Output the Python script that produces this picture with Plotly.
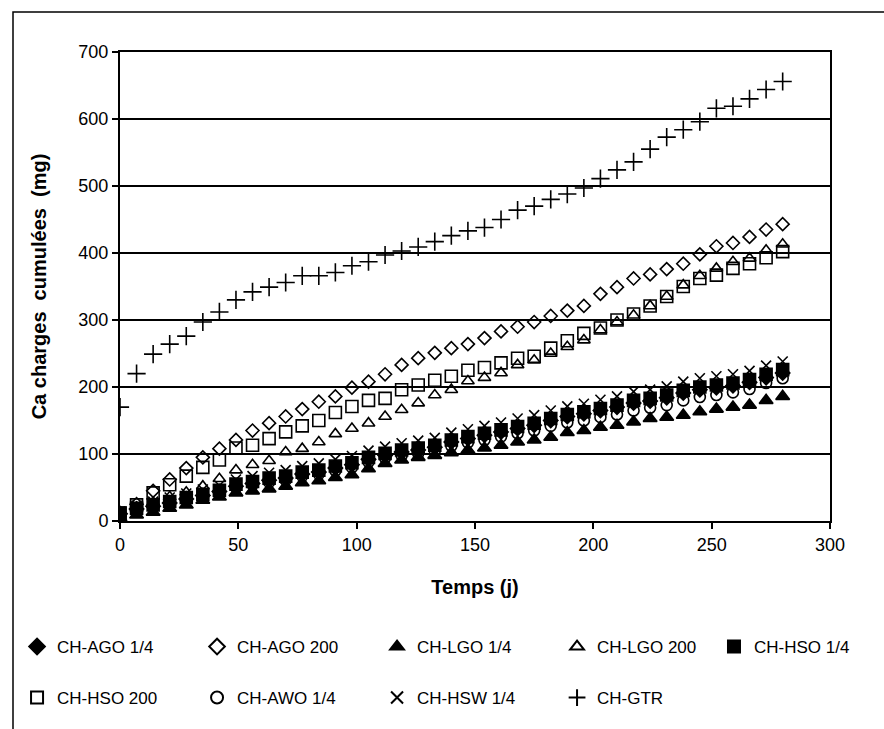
import plotly.graph_objects as go

days = [0, 7, 14, 21, 28, 35, 42, 49, 56, 63, 70, 77, 84, 91, 98, 105, 112, 119, 126, 133, 140,
        147, 154, 161, 168, 175, 182, 189, 196, 203, 210, 217, 224, 231, 238, 245, 252, 259, 266, 273, 280]

ago_14 = [11, 18, 22, 27, 33, 38, 44, 52, 56, 61, 64, 70, 73, 79, 84, 92, 98, 103, 106, 110, 118,
          123, 128, 133, 138, 143, 150, 156, 160, 165, 170, 176, 179, 184, 191, 196, 199, 202, 207, 214, 221]
ago_200 = [10, 25, 45, 62, 79, 95, 108, 121, 135, 146, 156, 167, 178, 186, 199, 208, 219, 233, 243, 251, 258,
           264, 273, 283, 290, 297, 306, 314, 321, 339, 349, 362, 368, 376, 384, 398, 410, 415, 424, 435, 443]
lgo_14 = [5, 9, 13, 19, 24, 31, 36, 42, 45, 48, 52, 57, 60, 65, 69, 78, 86, 91, 95, 98, 102,
          106, 109, 113, 118, 121, 125, 132, 135, 140, 143, 148, 153, 155, 158, 163, 167, 170, 173, 180, 186]
lgo_200 = [10, 20, 28, 36, 43, 52, 63, 76, 84, 90, 103, 108, 118, 130, 138, 146, 156, 166, 176, 188, 196,
           209, 214, 221, 233, 240, 250, 260, 270, 285, 297, 307, 321, 335, 352, 366, 377, 387, 392, 404, 413]
hso_14 = [12, 19, 24, 29, 35, 40, 46, 55, 59, 64, 67, 73, 76, 82, 87, 95, 101, 106, 109, 113, 121,
          126, 131, 136, 141, 146, 153, 159, 163, 168, 173, 180, 183, 188, 195, 200, 203, 206, 211, 219, 226]
hso_200 = [12, 24, 42, 54, 67, 80, 91, 109, 113, 123, 133, 142, 150, 162, 171, 180, 183, 196, 203, 210, 216,
           225, 229, 236, 243, 246, 258, 269, 280, 288, 300, 309, 321, 335, 350, 362, 367, 377, 384, 393, 402]
awo_14 = [10, 16, 21, 25, 31, 36, 42, 50, 54, 58, 61, 67, 70, 75, 80, 88, 94, 98, 101, 105, 112,
          117, 121, 126, 131, 135, 142, 147, 150, 155, 159, 165, 169, 173, 180, 185, 188, 192, 197, 206, 213]
hsw_14 = [14, 23, 29, 35, 41, 47, 53, 62, 67, 72, 76, 82, 86, 92, 97, 105, 111, 116, 120, 124, 132,
          137, 142, 147, 153, 158, 165, 171, 175, 181, 186, 193, 196, 201, 208, 213, 216, 219, 224, 232, 238]
gtr = [170, 220, 249, 264, 276, 297, 312, 330, 342, 349, 356, 366, 366, 371, 381, 387, 397, 403, 409, 417, 426,
       433, 438, 450, 464, 470, 480, 488, 497, 511, 524, 536, 555, 573, 584, 596, 616, 619, 630, 644, 656]

series_names = ["CH-AGO 1/4", "CH-AGO 200", "CH-LGO 1/4", "CH-LGO 200", "CH-HSO 1/4",
                "CH-HSO 200", "CH-AWO 1/4", "CH-HSW 1/4", "CH-GTR"]
series_values = [ago_14, ago_200, lgo_14, lgo_200, hso_14, hso_200, awo_14, hsw_14, gtr]
symbols = ["diamond", "diamond-open", "triangle-up", "triangle-up-open", "square",
           "square-open", "circle-open", "x-thin-open", "cross-thin-open"]
sizes = [11, 10, 12, 11, 12, 12, 11, 10, 13]
legend_ids = ["legend", "legend", "legend", "legend", "legend3",
              "legend2", "legend2", "legend2", "legend2"]

fig = go.Figure()
for name, vals, sym, sz, lg in zip(series_names, series_values, symbols, sizes, legend_ids):
    fig.add_trace(go.Scatter(
        x=days, y=vals, name=name, mode="markers", legend=lg,
        marker=dict(symbol=sym, size=sz, color="black",
                    line=dict(color="black", width=1.6)),
    ))

font_family = "Liberation Sans, Arial, sans-serif"
legend_common = dict(orientation="h", xanchor="left", yanchor="middle",
                     font=dict(family=font_family, size=17, color="black"),
                     entrywidth=135, entrywidthmode="pixels",
                     bgcolor="rgba(0,0,0,0)", itemsizing="constant")

row1_y = (521 - 647) / 469
row2_y = (521 - 698) / 469

fig.update_layout(
    width=884, height=729,
    margin=dict(l=120, r=54, t=52, b=208, autoexpand=False),
    paper_bgcolor="white", plot_bgcolor="white",
    font=dict(family=font_family, size=17, color="black"),
    showlegend=True,
    legend=dict(**legend_common, x=-0.145, y=row1_y),
    legend2=dict(**legend_common, x=-0.145, y=row2_y),
    legend3=dict(**legend_common, x=0.8366, y=row1_y),
    xaxis=dict(range=[0, 300], tickvals=[0, 50, 100, 150, 200, 250, 300],
               showgrid=False, zeroline=False, showline=True, linecolor="black", linewidth=2,
               mirror=True, ticks="outside", ticklen=6, tickcolor="black", tickwidth=1.5,
               tickfont=dict(size=18),
               title=dict(text="<b>Temps (j)</b>", font=dict(size=20), standoff=26)),
    yaxis=dict(range=[0, 700], tickvals=[0, 100, 200, 300, 400, 500, 600, 700],
               showgrid=True, gridcolor="black", gridwidth=1.5, zeroline=False,
               showline=True, linecolor="black", linewidth=2, mirror=True,
               ticks="outside", ticklen=6, tickcolor="black", tickwidth=1.5,
               tickfont=dict(size=18),
               title=dict(text="<b>Ca charges  cumulées  (mg)</b>", font=dict(size=20), standoff=26)),
    shapes=[dict(type="rect", xref="paper", yref="paper",
                 x0=(13 - 120) / 710, x1=(900 - 120) / 710,
                 y0=(521 - 760) / 469, y1=(521 - 12) / 469,
                 line=dict(color="black", width=1.5), fillcolor="rgba(0,0,0,0)", layer="below")],
)

fig.write_html("out.html")
